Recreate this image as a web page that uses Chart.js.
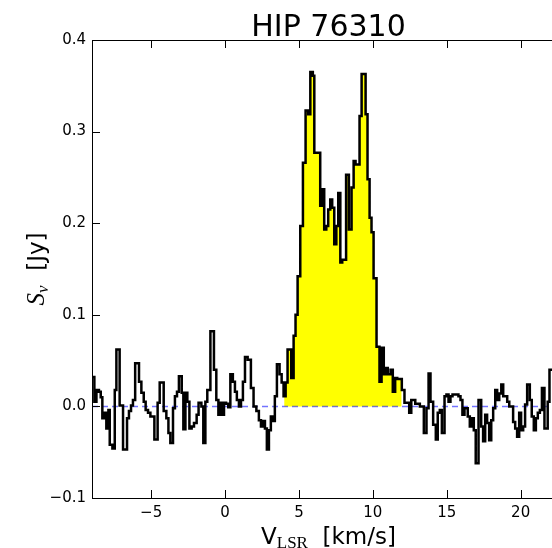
<!DOCTYPE html>
<html>
<head>
<meta charset="utf-8">
<script src="https://cdn.jsdelivr.net/npm/chart.js@4.4.1/dist/chart.umd.min.js"></script>
<style>
  html, body { margin: 0; padding: 0; background: #fff; overflow: hidden; }
  canvas { display: block; }
</style>
</head>
<body>
<canvas id="spectrum" width="580" height="548"></canvas>
<script>
// channel start velocities (km/s) and flux (Jy)
const velocity = [
  -9.00, -8.84, -8.70, -8.53, -8.41, -8.30, -8.16, -8.03, -7.89, -7.80,
  -7.62, -7.46, -7.35, -7.13, -6.90, -6.63, -6.50, -6.36, -6.23, -6.08,
  -5.82, -5.66, -5.50, -5.37, -5.21, -5.05, -4.78, -4.56, -4.42, -4.15,
  -3.97, -3.83, -3.70, -3.52, -3.39, -3.25, -3.12, -2.93, -2.82, -2.68,
  -2.55, -2.41, -2.26, -2.10, -1.92, -1.79, -1.60, -1.47, -1.33, -1.20,
  -0.99, -0.75, -0.59, -0.45, -0.32, -0.18, -0.07, 0.07, 0.22, 0.36,
  0.53, 0.67, 0.80, 0.94, 1.08, 1.21, 1.35, 1.53, 1.75, 1.93,
  2.12, 2.29, 2.43, 2.56, 2.70, 2.83, 2.97, 3.10, 3.24, 3.37,
  3.51, 3.69, 3.83, 3.96, 4.10, 4.23, 4.48, 4.64, 4.77, 4.91,
  5.09, 5.27, 5.45, 5.63, 5.77, 5.94, 6.04, 6.44, 6.58, 6.71,
  6.85, 6.98, 7.12, 7.25, 7.39, 7.53, 7.66, 7.80, 7.93, 8.19,
  8.38, 8.56, 8.70, 8.83, 9.10, 9.24, 9.51, 9.64, 9.78, 9.91,
  10.05, 10.25, 10.45, 10.59, 10.74, 10.88, 11.01, 11.20, 11.35, 11.51,
  11.65, 11.96, 12.14, 12.46, 12.60, 12.87, 13.18, 13.45, 13.63, 13.77,
  13.90, 14.08, 14.26, 14.39, 14.53, 14.67, 14.85, 14.98, 15.12, 15.25,
  15.39, 15.79, 15.93, 16.06, 16.20, 16.42, 16.56, 16.69, 16.83, 16.96,
  17.15, 17.33, 17.46, 17.60, 17.73, 17.87, 18.01, 18.14, 18.28, 18.41,
  18.55, 18.69, 18.82, 19.09, 19.23, 19.49, 19.63, 19.76, 19.90, 20.03,
  20.17, 20.30, 20.44, 20.62, 20.75, 20.89, 21.03, 21.16, 21.30, 21.44,
  21.61, 21.83, 21.95
];
const flux = [
  0.032, 0.005, 0.018, 0.016, 0.010, -0.013, -0.007, -0.024, -0.004, -0.042,
  -0.046, 0.018, 0.062, 0.001, -0.047, -0.013, -0.005, 0.001, 0.007, 0.047,
  0.027, 0.015, 0.005, -0.004, -0.007, -0.011, -0.036, 0.004, 0.026, -0.005,
  -0.013, -0.029, -0.040, -0.002, 0.011, 0.016, 0.033, 0.015, -0.025, 0.015,
  0.005, -0.024, -0.022, -0.018, -0.009, 0.004, 0.000, -0.040, 0.005, 0.018,
  0.082, 0.040, 0.007, -0.009, 0.004, -0.009, 0.004, 0.003, -0.001, 0.035,
  0.027, 0.016, 0.007, 0.000, 0.007, 0.027, 0.054, 0.051, 0.020, 0.000,
  -0.005, -0.015, -0.022, -0.016, -0.024, -0.047, -0.026, -0.011, -0.016, 0.011,
  0.046, 0.035, 0.026, 0.011, 0.026, 0.062, 0.031, 0.077, 0.100, 0.142,
  0.197, 0.266, 0.323, 0.319, 0.365, 0.361, 0.277, 0.219, 0.237, 0.193,
  0.197, 0.215, 0.226, 0.217, 0.177, 0.197, 0.233, 0.157, 0.160, 0.253,
  0.193, 0.239, 0.268, 0.264, 0.317, 0.363, 0.319, 0.248, 0.206, 0.190,
  0.140, 0.065, 0.027, 0.064, 0.035, 0.042, 0.035, 0.040, 0.016, 0.031,
  0.030, 0.018, 0.004, -0.007, 0.007, 0.003, 0.000, -0.029, -0.002, 0.036,
  0.005, -0.020, -0.036, -0.007, -0.004, -0.029, 0.011, 0.013, 0.005, 0.011,
  0.013, 0.011, 0.007, -0.009, -0.002, -0.011, -0.022, -0.013, -0.026, -0.062,
  0.007, -0.022, -0.038, -0.009, -0.018, -0.037, -0.015, -0.002, 0.018, 0.007,
  0.014, 0.024, 0.011, 0.005, 0.000, -0.017, -0.024, -0.033, -0.007, -0.026,
  -0.022, 0.002, 0.024, 0.007, -0.011, -0.026, -0.013, -0.007, -0.004, 0.020,
  -0.024, 0.005, 0.040
];
const velocityEnd = 23.0;
const lineWindow = [4.0, 11.95];   // shaded region
const baseline = 0.0;

const xTicks = [-5, 0, 5, 10, 15, 20];
const yTicks = [-0.1, 0.0, 0.1, 0.2, 0.3, 0.4];

const minus = (v, d) => (v < 0 ? '\u2212' : '') + Math.abs(v).toFixed(d);

const stepPts = velocity.map((v, i) => ({ x: v, y: flux[i] }));
stepPts.push({ x: velocityEnd, y: flux[flux.length - 1] });

function fluxAt(v) {
  let k = 0;
  velocity.forEach((vv, i) => { if (vv <= v) k = i; });
  return flux[k];
}
const fillPts = [{ x: lineWindow[0], y: fluxAt(lineWindow[0]) }];
velocity.forEach((v, i) => {
  if (v > lineWindow[0] && v < lineWindow[1]) fillPts.push({ x: v, y: flux[i] });
});
fillPts.push({ x: lineWindow[1], y: fluxAt(lineWindow[1]) });

// frame with inward ticks, like matplotlib
const framePlugin = {
  id: 'frame',
  afterDatasetsDraw(chart) {
    const { ctx, chartArea: a, scales } = chart;
    ctx.save();
    ctx.strokeStyle = '#000';
    ctx.lineWidth = 1;
    ctx.strokeRect(a.left + 0.5, a.top + 0.5, a.right - a.left, a.bottom - a.top);
    ctx.beginPath();
    xTicks.forEach(t => {
      const px = Math.round(scales.x.getPixelForValue(t)) + 0.5;
      ctx.moveTo(px, a.bottom); ctx.lineTo(px, a.bottom - 8);
      ctx.moveTo(px, a.top); ctx.lineTo(px, a.top + 8);
    });
    yTicks.forEach(t => {
      const py = Math.round(scales.y.getPixelForValue(t)) + 0.5;
      ctx.moveTo(a.left, py); ctx.lineTo(a.left + 8, py);
      ctx.moveTo(a.right, py); ctx.lineTo(a.right - 8, py);
    });
    ctx.stroke();
    ctx.restore();
  }
};

const labelPlugin = {
  id: 'labels',
  afterDraw(chart) {
    const { ctx, chartArea: a } = chart;
    const cx = (a.left + a.right) / 2;
    const cy = (a.top + a.bottom) / 2;
    const main = '23px "DejaVu Sans"';
    ctx.save();
    ctx.fillStyle = '#000';
    ctx.textBaseline = 'alphabetic';

    ctx.font = '30px "DejaVu Sans"';
    ctx.textAlign = 'center';
    ctx.fillText('HIP 76310', cx, 36);

    // V_LSR  [km/s]
    ctx.textAlign = 'left';
    const sub = '17px "Liberation Serif"';
    ctx.font = main;
    const wV = ctx.measureText('V').width, wU = ctx.measureText('  [km/s]').width;
    ctx.font = sub;
    const wS = ctx.measureText('LSR').width;
    let x = cx - (wV + wS + wU) / 2;
    ctx.font = main; ctx.fillText('V', x, 544); x += wV;
    ctx.font = sub; ctx.fillText('LSR', x, 548); x += wS;
    ctx.font = main; ctx.fillText('  [km/s]', x, 544);

    // S_nu  [Jy]
    ctx.translate(44, cy);
    ctx.rotate(-Math.PI / 2);
    const sFont = 'italic 25px "Liberation Serif"', nuFont = 'italic 17px "Liberation Serif"';
    ctx.font = sFont; const wSn = ctx.measureText('S').width;
    ctx.font = nuFont; const wNu = ctx.measureText('\u03bd').width;
    ctx.font = main; const wJ = ctx.measureText('  [Jy]').width;
    x = -(wSn + wNu + wJ) / 2;
    ctx.font = sFont; ctx.fillText('S', x, 0); x += wSn;
    ctx.font = nuFont; ctx.fillText('\u03bd', x, 4); x += wNu;
    ctx.font = main; ctx.fillText('  [Jy]', x, 0);
    ctx.restore();
  }
};

new Chart(document.getElementById('spectrum'), {
  type: 'line',
  data: {
    datasets: [
      {
        data: stepPts,
        stepped: 'before',
        borderColor: '#000',
        borderWidth: 2.5,
        pointRadius: 0,
        fill: false,
        order: 1
      },
      {
        data: [{ x: -9, y: baseline }, { x: velocityEnd, y: baseline }],
        borderColor: 'rgba(0,0,255,0.55)',
        borderWidth: 1.5,
        borderDash: [6, 4],
        pointRadius: 0,
        fill: false,
        order: 2
      },
      {
        data: fillPts,
        stepped: 'before',
        borderWidth: 0,
        borderColor: 'rgba(0,0,0,0)',
        backgroundColor: '#ffff00',
        pointRadius: 0,
        fill: 'origin',
        order: 3
      }
    ]
  },
  options: {
    responsive: false,
    animation: false,
    layout: { padding: { top: 40, right: 15, left: 0, bottom: 0 } },
    plugins: { legend: { display: false }, tooltip: { enabled: false } },
    scales: {
      x: {
        type: 'linear',
        min: -9,
        max: 23,
        grid: { display: false, drawTicks: false },
        border: { display: false },
        afterBuildTicks: s => { s.ticks = xTicks.map(v => ({ value: v })); },
        afterFit: s => { s.height = 50; },
        ticks: {
          autoSkip: false,
          maxRotation: 0,
          padding: 6,
          color: '#000',
          font: { family: 'DejaVu Sans', size: 15 },
          callback: v => minus(v, 0)
        }
      },
      y: {
        min: -0.1,
        max: 0.4,
        grid: { display: false, drawTicks: false },
        border: { display: false },
        afterBuildTicks: s => { s.ticks = yTicks.map(v => ({ value: v })); },
        afterFit: s => { s.width = 92; },
        ticks: {
          autoSkip: false,
          padding: 6,
          color: '#000',
          font: { family: 'DejaVu Sans', size: 15 },
          callback: v => minus(v, 1)
        }
      }
    }
  },
  plugins: [framePlugin, labelPlugin]
});
</script>
</body>
</html>
